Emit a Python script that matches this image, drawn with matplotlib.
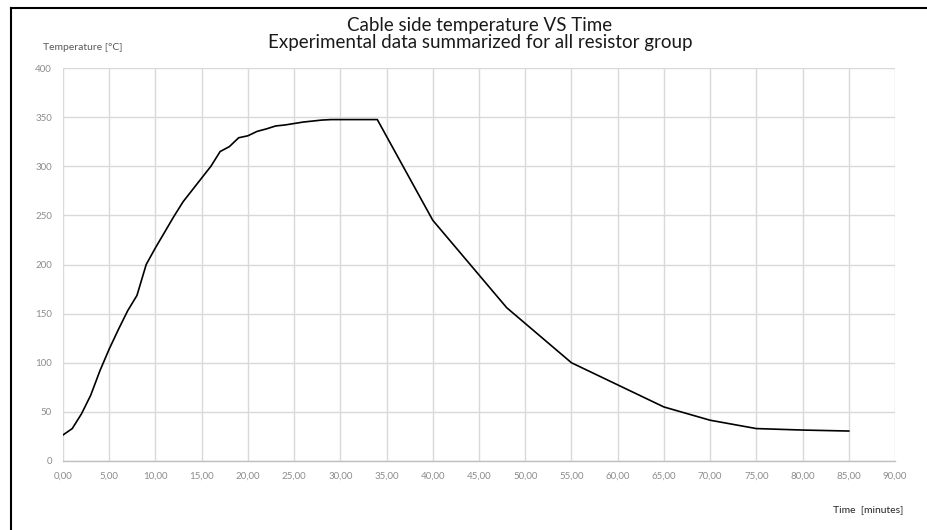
import matplotlib.pyplot as plt
from matplotlib.lines import Line2D

# Readings taken off the reference chart
time_min = [0, 1, 2, 3, 4, 5, 6, 7, 8, 9, 10, 11, 12, 13, 14, 15, 16, 17, 18,
            19, 20, 21, 22, 23, 24, 25, 26, 27, 28, 29, 30, 34, 40, 48, 55,
            65, 70, 75, 80, 85]
temp_c = [26.5, 33, 48, 67, 92, 114, 134, 153, 168.5, 200, 217, 233, 249, 264,
          276, 288, 300, 315, 320, 329, 331, 335.5, 338, 341, 342, 343.5, 345,
          346, 347, 347.5, 347.5, 347.5, 245, 156, 100, 55, 41.5, 33, 31.5, 30.5]

x_ticks = list(range(0, 95, 5))
x_tick_labels = [f"{v},00" for v in x_ticks]
y_ticks = list(range(0, 450, 50))

title = "Cable side temperature VS Time\nExperimental data summarized for all resistor group"
grid_col = '#d9d9d9'
text_col = '#8c8c8c'

plt.rcParams['font.family'] = ['Lato', 'DejaVu Sans']

fig = plt.figure(figsize=(9.27, 5.30), dpi=100)
ax = fig.add_axes([63 / 927, 1 - 461 / 530, (895 - 63) / 927, (461 - 68) / 530])

ax.plot(time_min, temp_c, color='black', linewidth=1.2)

ax.set_xlim(0, 90)
ax.set_ylim(0, 400)
ax.set_xticks(x_ticks)
ax.set_xticklabels(x_tick_labels)
ax.set_yticks(y_ticks)
ax.grid(True, color=grid_col, linewidth=1.0)
ax.set_axisbelow(True)
for side in ['top', 'right', 'left']:
    ax.spines[side].set_visible(False)
ax.spines['bottom'].set_color('#bfbfbf')
ax.spines['bottom'].set_linewidth(1.0)
ax.tick_params(length=0, labelsize=7, labelcolor=text_col, pad=8)

# Titles and axis labels placed like the spreadsheet export
fig.text(480 / 927, 1 - 34 / 530, title, ha='center', va='center',
         fontsize=13.5, color='#1a1a1a', linespacing=1.05)
fig.text(43 / 927, 1 - 48 / 530, "Temperature [°C]", ha='left', va='center',
         fontsize=7.5, color='#595959')
fig.text(903 / 927, 1 - 510 / 530, "Time  [minutes]", ha='right', va='center',
         fontsize=7.5, color='#262626')

# Outer frame of the chart object (left and top edges only are visible)
fx = 11 / 927
fy = 1 - 8 / 530
fig.add_artist(Line2D([fx, fx], [0, fy], transform=fig.transFigure, color='black', linewidth=1.5))
fig.add_artist(Line2D([fx, 1], [fy, fy], transform=fig.transFigure, color='black', linewidth=1.5))

plt.savefig('out.png', dpi=100)
